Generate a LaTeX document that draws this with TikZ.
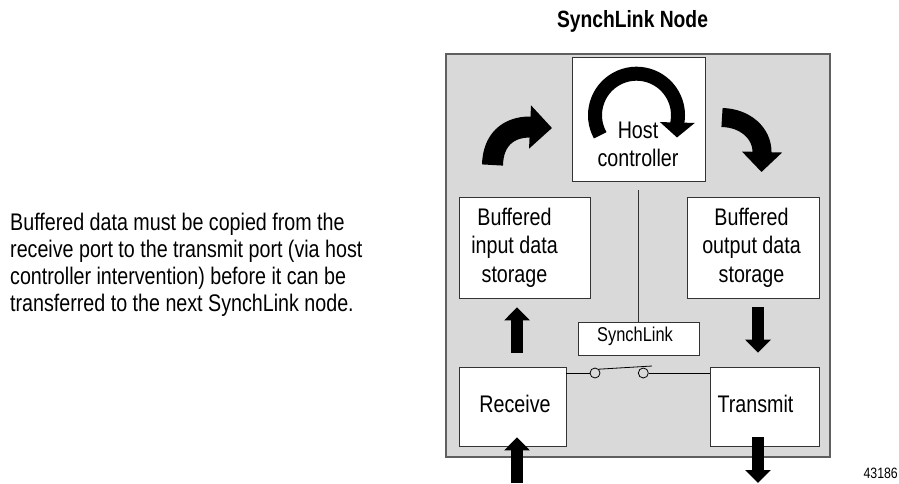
\documentclass[tikz,border=0pt]{standalone}
\usepackage{fontspec}
\setmainfont{Liberation Sans}[FakeStretch=0.82]
\usetikzlibrary{arrows.meta}
\definecolor{panelgray}{HTML}{D9D9D9}
\definecolor{edgegray}{HTML}{5F5F5F}
\tikzset{
  panel/.style={draw=edgegray, fill=panelgray, line width=1.5pt, inner sep=0pt},
  box/.style={draw=black!80, fill=white, line width=0.8pt, inner sep=0pt},
  lbl/.style={font=\fontsize{24}{28.5}\selectfont, align=center, inner sep=0pt},
  fat/.style={line width=12pt, -{Triangle[length=13pt,width=25pt]}},
}
\begin{document}
\begin{tikzpicture}[x=1pt,y=-1pt]
    \useasboundingbox (0,0) rectangle (899,483);
    % titre
    \node[font=\fontsize{23.5}{27}\selectfont\bfseries, anchor=base, inner sep=0pt] (title) at (632.5,27) {SynchLink Node};
    % texte
    \node[font=\fontsize{24}{27.3}\selectfont, align=left, anchor=north west, inner sep=0pt] (note) at (10,212.5)
      {Buffered data must be copied from the\\receive port to the transmit port (via host\\controller intervention) before it can be\\transferred to the next SynchLink node.};
    % cadre
    \node[panel, minimum width=384pt, minimum height=403pt] (panel) at (638,255.5) {};
    % blocs
    \node[box, minimum width=133pt, minimum height=124pt] (host) at (638.5,119.7) {};
    \node[box, minimum width=131pt, minimum height=101pt] (inbuf) at (524.5,247.5) {};
    \node[box, minimum width=132pt, minimum height=101pt] (outbuf) at (753,247.5) {};
    \node[box, minimum width=121pt, minimum height=33pt] (synch) at (638.5,338.5) {};
    \node[box, minimum width=107pt, minimum height=79pt] (recv) at (512.5,406.5) {};
    \node[box, minimum width=109pt, minimum height=79pt] (xmit) at (764.5,406.5) {};
    \node[lbl] (hostlbl) at (638,144.5) {Host\\controller};
    \node[lbl] (inlbl) at (514.5,247.3) {Buffered\\input data\\storage};
    \node[lbl] (outlbl) at (751.5,247.3) {Buffered\\output data\\storage};
    \node[lbl, font=\fontsize{20}{24}\selectfont] (synlbl) at (635,336.8) {SynchLink};
    \node[lbl] (rxlbl) at (515,404.4) {Receive};
    \node[lbl] (txlbl) at (755.5,404.4) {Transmit};
    \node[font=\fontsize{15}{18}\selectfont, anchor=base east, inner sep=0pt] (fig) at (898,478) {43186};
    % liaison et interrupteur
    \draw[black!80, shorten <=8pt] (host.south) -- (synch.north);
    \node[circle, draw, line width=0.8pt, minimum size=10pt, inner sep=0pt] (c1) at (595,373) {};
    \node[circle, draw, line width=0.8pt, minimum size=10pt, inner sep=0pt] (c2) at (643.3,373) {};
    \coordinate (lever) at (652,366);
    \draw[line width=0.8pt] (recv.east |- c1) -- (c1.west);
    \draw[line width=0.8pt] (c1.north east) -- (lever);
    \draw[line width=0.8pt] (c2.east) -- (c2 -| xmit.west);
    % flèches droites
    \coordinate (upx) at (517,0);
    \coordinate (dnx) at (758,0);
    \draw[fat, shorten <=14pt, shorten >=9pt] (upx |- recv.north) -- (upx |- inbuf.south);
    \draw[fat, shorten <=9pt, shorten >=14pt] (dnx |- outbuf.south) -- (dnx |- xmit.north);
    \draw[fat, shorten >=-9pt] (upx |- 0,483) -- (upx |- recv.south);
    \draw[fat, shorten <=-9pt] (dnx |- xmit.south) -- (dnx |- 0,483);
    % flèches courbes
    \coordinate (intail) at (492.5,165);
    \coordinate (outtail) at (722,117.5);
    \coordinate (ring) at (636.5,115.2);
    \draw[line width=21pt, -{Triangle[length=22pt,width=42pt]}, line join=round]
      (intail) .. controls (493,140) and (508,127) .. (530,127) -- (552,128);
    \draw[line width=19pt, -{Triangle[length=20pt,width=39pt]}, line join=round]
      (outtail) .. controls (745,118) and (762,133) .. (762,152) -- (761.5,172);
    \draw[line width=14pt, -{Triangle[length=15pt,width=34pt]}, line join=round]
      ([shift={(-209:41.5)}]ring) arc[start angle=-209, end angle=10, radius=41.5] -- (677,137.5);
\end{tikzpicture}
\end{document}
